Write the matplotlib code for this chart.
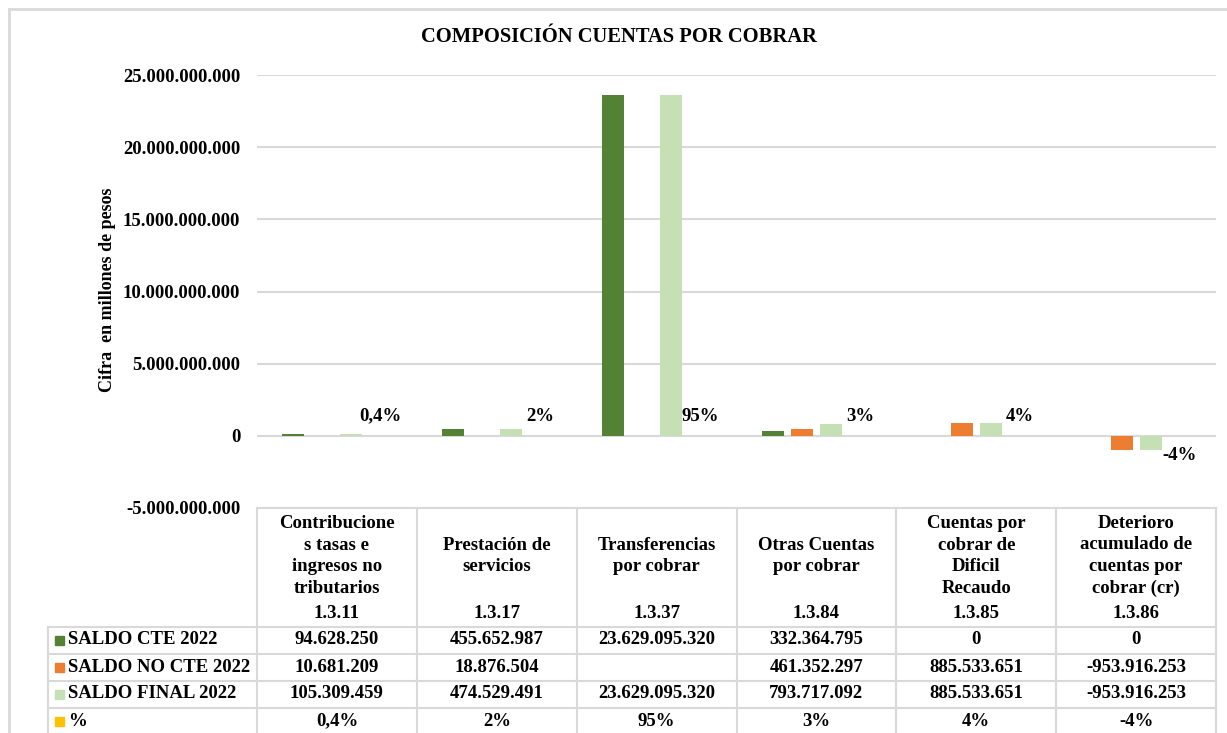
import matplotlib
matplotlib.use("Agg")
import matplotlib.pyplot as plt
from matplotlib.ticker import FuncFormatter, FixedLocator
from matplotlib.patches import Rectangle

# ---------------- data ----------------
categories = ["Contribucione\ns tasas e\ningresos no\ntributarios",
              "Prestación de\nservicios",
              "Transferencias\npor cobrar",
              "Otras Cuentas\npor cobrar",
              "Cuentas por\ncobrar de\nDificil\nRecaudo",
              "Deterioro\nacumulado de\ncuentas por\ncobrar (cr)"]
codes = ["1.3.11", "1.3.17", "1.3.37", "1.3.84", "1.3.85", "1.3.86"]
series_names = ["SALDO CTE 2022", "SALDO NO CTE 2022", "SALDO FINAL 2022", "%"]
saldo_cte = [94628250, 455652987, 23629095320, 332364795, 0, 0]
saldo_no_cte = [10681209, 18876504, None, 461352297, 885533651, -953916253]
saldo_final = [105309459, 474529491, 23629095320, 793717092, 885533651, -953916253]
pct = [0.004, 0.02, 0.95, 0.03, 0.04, -0.04]
yticks = [-5e9, 0, 5e9, 10e9, 15e9, 20e9, 25e9]

colors = ["#548235", "#ED7D31", "#C5E0B4", "#FFC000"]
grid_c = "#D9D9D9"
FONT = "Liberation Serif"
FS = 13.5

plt.rcParams['font.family'] = [FONT, 'DejaVu Sans']
plt.rcParams['font.weight'] = 'bold'


def fmt_num(v):
    if v is None:
        return ""
    return f"{int(v):,}".replace(",", ".")


def fmt_pct(p):
    v = p * 100
    s = f"{v:.1f}" if abs(v) < 1 else f"{v:.0f}"
    return s.replace(".", ",") + "%"


W, H = 1227, 733
fig = plt.figure(figsize=(W / 100, H / 100), dpi=100)

X0, X1, YT, YB = 257, 1216, 75, 508
ax = fig.add_axes([X0 / W, 1 - YB / H, (X1 - X0) / W, (YB - YT) / H])
ax.set_facecolor("none")
ax.set_xlim(-0.5, len(categories) - 0.5)
ax.set_ylim(-5e9, 25e9)

ax.yaxis.set_major_locator(FixedLocator(yticks))
ax.yaxis.set_major_formatter(FuncFormatter(lambda v, p: fmt_num(v)))
ax.tick_params(axis='y', length=0, pad=12, labelsize=FS)
for lab in ax.get_yticklabels():
    lab.set_fontweight('bold')
ax.set_xticks([])
ax.grid(axis='y', color=grid_c, linewidth=1.5)
ax.set_axisbelow(True)
for s in ax.spines.values():
    s.set_visible(False)

step = 0.1815
bw = 0.138
all_series = [saldo_cte, [0 if v is None else v for v in saldo_no_cte], saldo_final, pct]
xs = list(range(len(categories)))
bars_pct = None
for k, vals in enumerate(all_series):
    off = (k - 1.5) * step
    b = ax.bar([x + off for x in xs], vals, width=bw, color=colors[k], zorder=3)
    if k == 3:
        bars_pct = b
ax.bar_label(bars_pct, labels=[fmt_pct(p) for p in pct], padding=8,
             fontsize=FS, fontweight='bold', family=FONT)

# title and axis label
fig.text(619 / W, 1 - 37 / H, "COMPOSICIÓN CUENTAS POR COBRAR", ha='center', va='center',
         fontsize=14.8, fontweight='bold', family=FONT)
fig.text(107 / W, 1 - 290 / H, "Cifra  en millones de pesos", rotation=90, ha='center',
         va='center', fontsize=13, fontweight='bold', family=FONT)

# ---------------- data table (pixel coords overlay) ----------------
tab = fig.add_axes([0, 0, 1, 1])
tab.set_xlim(0, W)
tab.set_ylim(H, 0)
tab.axis('off')
tab.patch.set_visible(False)

ncol = len(categories)
cw = (X1 - X0) / ncol
LX = 48
row_lines = [627, 654, 681, 708]
row_centers = [640, 667, 694, 721]
lw = 1.5

# outer chart border
tab.plot([9, 9], [9, H + 5], color=grid_c, lw=2)
tab.plot([9, 1226], [9, 9], color=grid_c, lw=2)

# header top
tab.plot([X0, X1], [YB, YB], color=grid_c, lw=lw)
for i in range(ncol + 1):
    x = X0 + i * cw
    tab.plot([x, x], [YB, H + 5], color=grid_c, lw=lw)
tab.plot([LX, LX], [row_lines[0], H + 5], color=grid_c, lw=lw)
for y in row_lines:
    tab.plot([LX, X1], [y, y], color=grid_c, lw=lw)

for i in range(ncol):
    cx = X0 + (i + 0.5) * cw
    tab.text(cx, 556, categories[i], ha='center', va='center', fontsize=FS,
             fontweight='bold', family=FONT, linespacing=1.36)
    tab.text(cx, 613, codes[i], ha='center', va='center', fontsize=FS,
             fontweight='bold', family=FONT)

table_rows = [[fmt_num(v) for v in saldo_cte],
              [fmt_num(v) for v in saldo_no_cte],
              [fmt_num(v) for v in saldo_final],
              [fmt_pct(p) for p in pct]]
for r, (name, vals) in enumerate(zip(series_names, table_rows)):
    yc = row_centers[r]
    tab.add_patch(Rectangle((55, yc - 4.5), 9, 9, color=colors[r]))
    tab.text(68, yc, name, ha='left', va='center', fontsize=FS, fontweight='bold', family=FONT)
    for i, s in enumerate(vals):
        cx = X0 + (i + 0.5) * cw
        tab.text(cx, yc, s, ha='center', va='center', fontsize=FS, fontweight='bold', family=FONT)

fig.savefig("out.png", dpi=100, facecolor="white")
